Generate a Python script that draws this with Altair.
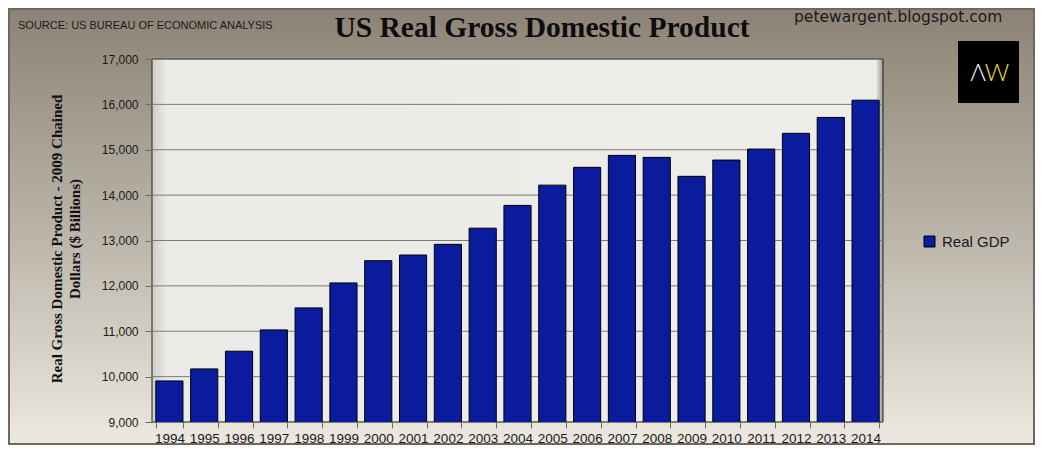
import altair as alt
import pandas as pd

# values ($ billions, chained 2009 dollars)
years = ["1994", "1995", "1996", "1997", "1998", "1999", "2000", "2001", "2002", "2003", "2004",
         "2005", "2006", "2007", "2008", "2009", "2010", "2011", "2012", "2013", "2014"]
gdp = [9905, 10170, 10560, 11030, 11515, 12065, 12555, 12680, 12915, 13272, 13773,
       14220, 14612, 14876, 14832, 14414, 14773, 15015, 15362, 15712, 16092]
y_ticks = [9000, 10000, 11000, 12000, 13000, 14000, 15000, 16000, 17000]
series_name = "Real GDP"

title_text = "US Real Gross Domestic Product"
source_text = "SOURCE: US BUREAU OF ECONOMIC ANALYSIS"
site_text = "petewargent.blogspot.com"
y_title = ["Real Gross Domestic Product - 2009 Chained", "Dollars ($ Billions)"]

W, H = 731, 363
PAD = {"left": 144, "top": 51, "right": 152, "bottom": 23}

df = pd.DataFrame({"year": years, "gdp": gdp, "series": series_name})
ticks_df = pd.DataFrame({"gdp": y_ticks})
one = pd.DataFrame({"k": [0]})

y_scale = alt.Scale(domain=[9000, 17000], nice=False, zero=False)
y_axis = alt.Axis(values=y_ticks, format=",d", grid=False, labelFont="Liberation Sans",
                  labelFontSize=12, labelColor="#1a1a1a", labelPadding=7,
                  tickSize=7, tickColor="#6a6a6a", domain=False, zindex=1,
                  titleFont="Liberation Serif", titleFontWeight="bold",
                  titleFontSize=15, titleLineHeight=18, titleColor="#111111",
                  titleAngle=270, titleX=-96, titleY=H / 2 - 2,
                  titleAlign="center", titleBaseline="middle")

bg_fill = alt.Gradient(
    gradient="linear", x1=0, x2=0, y1=0, y2=1,
    stops=[alt.GradientStop(color="#8c8376", offset=0),
           alt.GradientStop(color="#b9b3a7", offset=0.5),
           alt.GradientStop(color="#ede9e0", offset=1)])

plot_fill = alt.Gradient(
    gradient="linear", x1=0, x2=1, y1=0, y2=0,
    stops=[alt.GradientStop(color="#cfccc6", offset=0),
           alt.GradientStop(color="#ebeae6", offset=0.02),
           alt.GradientStop(color="#eeede9", offset=0.99),
           alt.GradientStop(color="#9b968e", offset=1)])

background = alt.Chart(one).mark_rect(fill=bg_fill, stroke="#6e6960", strokeWidth=4).encode(
    x=alt.value(-PAD["left"]), x2=alt.value(W + PAD["right"]),
    y=alt.value(-PAD["top"]), y2=alt.value(H + PAD["bottom"]))

plot_area = alt.Chart(one).mark_rect(fill=plot_fill, stroke="#222222", strokeWidth=1).encode(
    x=alt.value(0), x2=alt.value(W), y=alt.value(0), y2=alt.value(H))

grid = alt.Chart(ticks_df).mark_rule(color="#7d7a76", strokeWidth=1).encode(
    y=alt.Y("gdp:Q", scale=y_scale, title=y_title, axis=y_axis))

bars = alt.Chart(df).mark_bar(stroke="#000000", strokeWidth=1, clip=True).encode(
    x=alt.X("year:N", sort=years, title=None,
            scale=alt.Scale(paddingInner=0.22, paddingOuter=0.11),
            axis=alt.Axis(labelAngle=0, labelFont="Liberation Sans", labelFontSize=13.5,
                          labelColor="#1a1a1a", labelPadding=3, tickBand="extent",
                          tickSize=6, tickColor="#6a6a6a", domain=False, zindex=1)),
    y=alt.Y("gdp:Q", scale=y_scale, title=y_title, axis=y_axis),
    color=alt.Color("series:N", scale=alt.Scale(range=["#0a1b9e"]),
                    legend=alt.Legend(title=None, orient="none", legendX=770, legendY=175,
                                      symbolType="square", symbolSize=121,
                                      symbolStrokeColor="#000000", symbolStrokeWidth=1,
                                      labelFont="Liberation Sans", labelFontSize=15,
                                      labelColor="#1a1a1a", labelOffset=5, padding=0))
)

main_title = alt.Chart(one).mark_text(
    text=title_text, font="Liberation Serif", fontWeight="bold", fontSize=29.5,
    color="#0d0d0d", align="center", baseline="alphabetic").encode(
    x=alt.value(390), y=alt.value(-22))

source = alt.Chart(one).mark_text(
    text=source_text, font="Liberation Sans", fontSize=11, color="#1a1a1a",
    align="left", baseline="alphabetic").encode(x=alt.value(-134), y=alt.value(-30))

site = alt.Chart(one).mark_text(
    text=site_text, font="DejaVu Sans", fontSize=15.5, color="#1a1a1a",
    align="left", baseline="alphabetic").encode(x=alt.value(642), y=alt.value(-37))

logo_box = alt.Chart(one).mark_rect(fill="#000000").encode(
    x=alt.value(806), x2=alt.value(867), y=alt.value(-18), y2=alt.value(44))

logo_a = alt.Chart(one).mark_text(
    text="Λ", font="Lato", fontWeight=300, fontSize=24, color="#f2f2f2",
    align="center", baseline="alphabetic").encode(x=alt.value(826), y=alt.value(22))

logo_w = alt.Chart(one).mark_text(
    text="W", font="Lato", fontWeight=300, fontSize=24, color="#e6dc45",
    align="center", baseline="alphabetic").encode(x=alt.value(845), y=alt.value(22))

chart = alt.layer(
    background, plot_area, grid, bars, main_title, source, site, logo_box, logo_a, logo_w
).properties(
    width=W, height=H,
    padding=PAD,
    autosize=alt.AutoSizeParams(type="none")
).configure_view(
    stroke=None
).configure(
    background="#b5aea2"
)

chart.save("out.html", embed_options={"renderer": "svg", "actions": False})
